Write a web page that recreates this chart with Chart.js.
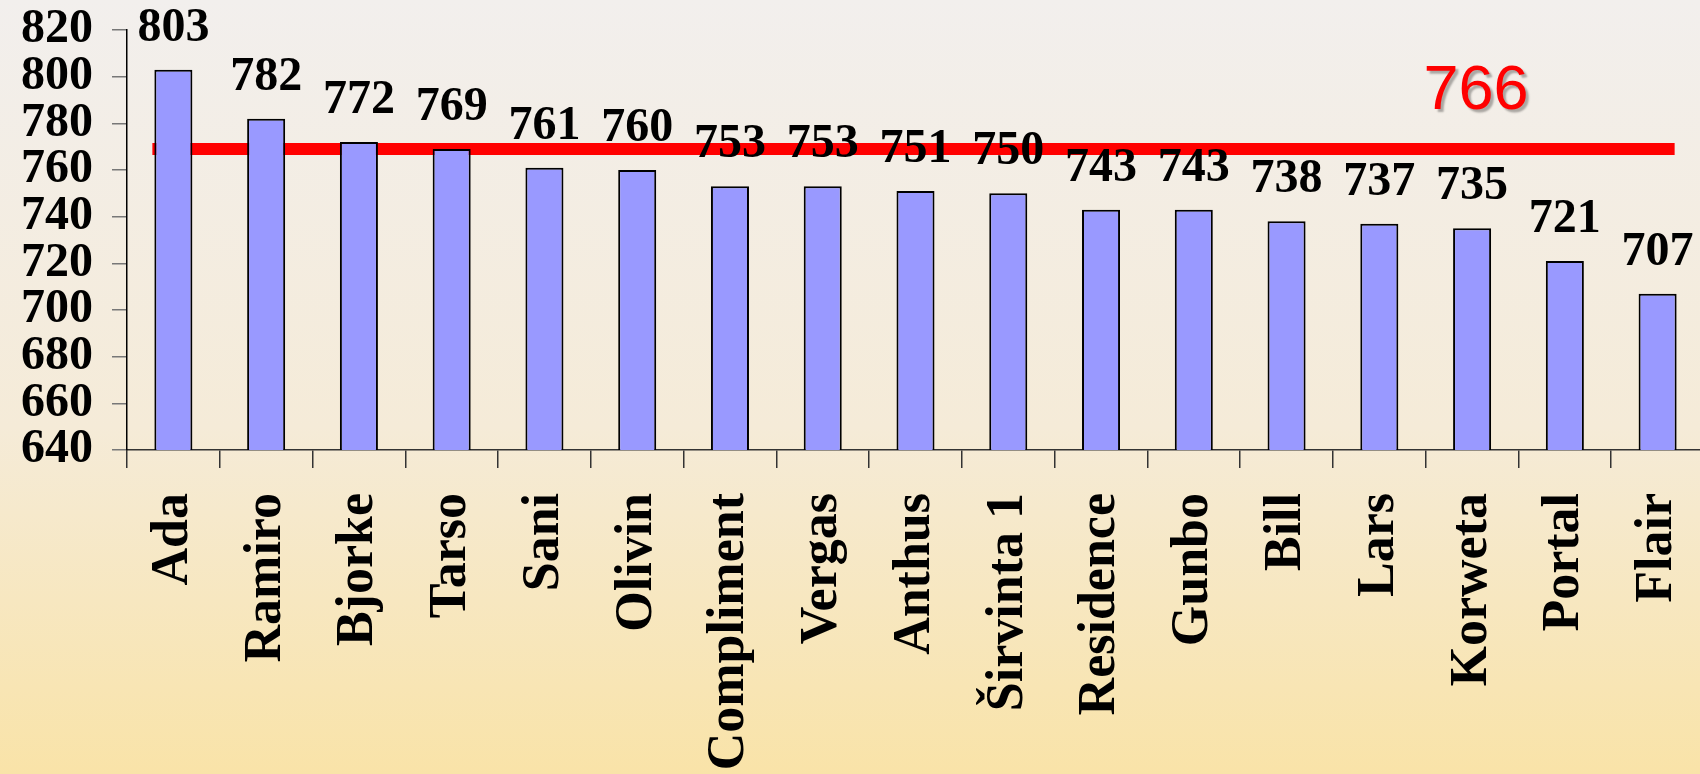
<!DOCTYPE html>
<html>
<head>
<meta charset="utf-8">
<script src="https://cdn.jsdelivr.net/npm/chart.js@4"></script>
<style>
    html, body { margin: 0; padding: 0; overflow: hidden; }
    body {
        width: 1700px;
        height: 774px;
        background: linear-gradient(to bottom, #F2EFED 0%, #F5EBD8 55%, #F9E3A8 100%);
    }
    #wrap { width: 1704px; height: 774px; position: relative; }
</style>
</head>
<body>
<div id="wrap"><canvas id="scoreChart"></canvas></div>
<script>
// Chart data
const varieties = ["Ada", "Ramiro", "Bjorke", "Tarso", "Sani", "Olivin", "Compliment", "Vergas",
    "Anthus", "Širvinta 1", "Residence", "Gunbo", "Bill", "Lars", "Korweta", "Portal", "Flair"];
const scores = [803, 782, 772, 769, 761, 760, 753, 753, 751, 750, 743, 743, 738, 737, 735, 721, 707];
const yTicks = [640, 660, 680, 700, 720, 740, 760, 780, 800, 820];
const avgLineLevel = 769;   // where the red line sits on the value axis
const avgLabel = "766";     // text written above it
const avgLabelIndex = 14;   // category the label is centred over

const serif = "'Liberation Serif', 'Times New Roman', serif";

// Red average line, drawn behind the bars
const avgLinePlugin = {
    id: "avgLine",
    beforeDatasetsDraw(chart) {
        const ctx = chart.ctx;
        const y = chart.scales.y.getPixelForValue(avgLineLevel);
        const bars = chart.getDatasetMeta(0).data;
        const first = bars[0], last = bars[bars.length - 1];
        ctx.save();
        ctx.strokeStyle = "#FF0000";
        ctx.lineWidth = 12;
        ctx.beginPath();
        ctx.moveTo(first.x - first.width / 2 - 2, y);
        ctx.lineTo(last.x + last.width / 2 - 2, y);
        ctx.stroke();
        ctx.restore();
    },
    afterDraw(chart) {
        const ctx = chart.ctx;
        const x = chart.scales.x.getPixelForValue(avgLabelIndex) + 4;
        const y = chart.scales.y.getPixelForValue(avgLineLevel) - 40;
        ctx.save();
        ctx.font = "63px 'Liberation Sans', Arial, sans-serif";
        ctx.textAlign = "center";
        ctx.textBaseline = "alphabetic";
        ctx.shadowColor = "rgba(0, 0, 0, 0.3)";
        ctx.shadowOffsetX = 3;
        ctx.shadowOffsetY = 3;
        ctx.shadowBlur = 2;
        ctx.fillStyle = "#FF0000";
        ctx.fillText(avgLabel, x, y);
        ctx.restore();
    }
};

// Value labels above bars (on top of the red line)
const valueLabelPlugin = {
    id: "valueLabels",
    afterDatasetsDraw(chart) {
        const ctx = chart.ctx;
        const bars = chart.getDatasetMeta(0).data;
        ctx.save();
        ctx.font = "bold 48px " + serif;
        ctx.fillStyle = "#000";
        ctx.textAlign = "center";
        ctx.textBaseline = "alphabetic";
        bars.forEach((bar, i) => {
            ctx.fillText(String(scores[i]), bar.x, bar.y - 29);
        });
        ctx.restore();
    }
};

const ctx = document.getElementById("scoreChart").getContext("2d");
new Chart(ctx, {
    type: "bar",
    data: {
        labels: varieties,
        datasets: [{
            data: scores,
            backgroundColor: "#9999FF",
            borderColor: "#000000",
            borderWidth: 2,
            barPercentage: 0.41,
            categoryPercentage: 1.0
        }]
    },
    options: {
        responsive: true,
        maintainAspectRatio: false,
        animation: false,
        layout: { padding: { top: 30, left: 17, right: 0, bottom: 0 } },
        plugins: {
            legend: { display: false },
            tooltip: { enabled: false }
        },
        scales: {
            x: {
                grid: {
                    drawOnChartArea: false,
                    offset: true,
                    tickLength: 18,
                    color: "#333",
                    lineWidth: 1.5
                },
                border: { color: "#333", width: 1.5 },
                ticks: {
                    autoSkip: false,
                    minRotation: 90,
                    maxRotation: 90,
                    padding: 25,
                    color: "#000",
                    font: { family: serif, size: 52, weight: "bold" }
                },
                afterFit(scale) {
                    scale.height = 324;
                    scale.paddingLeft = 0;
                    scale.paddingRight = 0;
                }
            },
            y: {
                min: yTicks[0],
                max: yTicks[yTicks.length - 1],
                afterBuildTicks(scale) { scale.ticks = yTicks.map(v => ({ value: v })); },
                grid: {
                    drawOnChartArea: false,
                    tickLength: 15,
                    color: "#777",
                    lineWidth: 1.5
                },
                border: { color: "#000", width: 1.5 },
                ticks: {
                    autoSkip: false,
                    padding: 19,
                    color: "#000",
                    font: { family: serif, size: 48, weight: "bold" }
                },
                afterFit(scale) {
                    scale.width = 110;
                    scale.paddingTop = 0;
                    scale.paddingBottom = 0;
                }
            }
        }
    },
    plugins: [avgLinePlugin, valueLabelPlugin]
});
</script>
</body>
</html>
